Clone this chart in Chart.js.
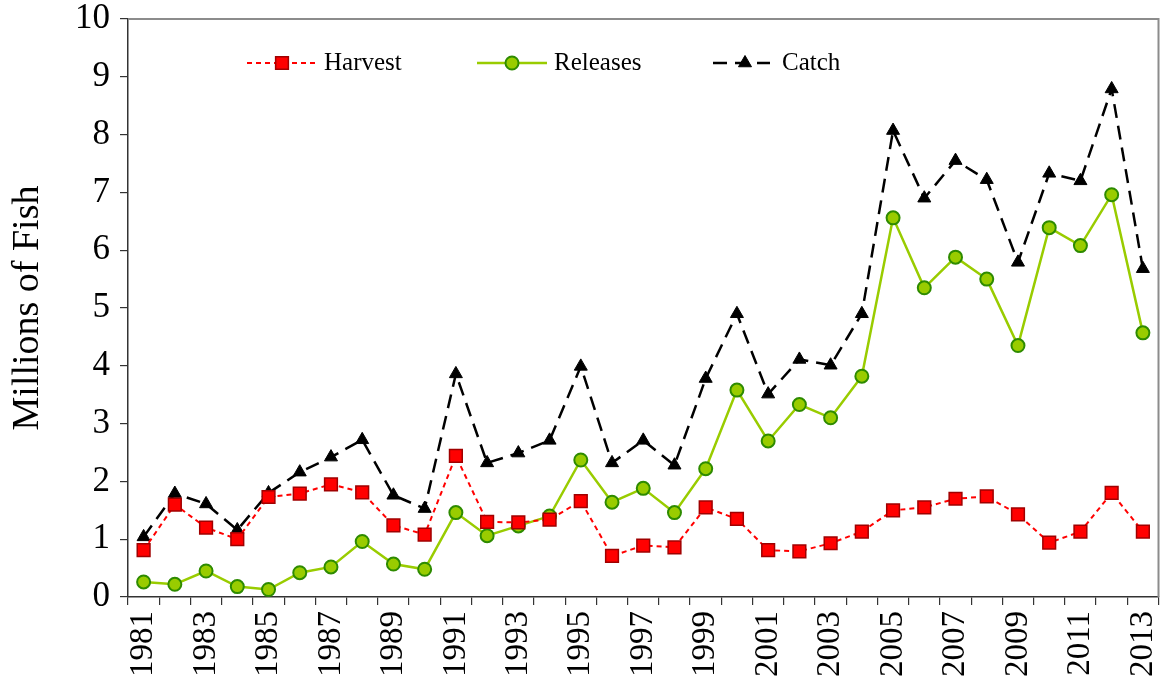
<!DOCTYPE html>
<html>
<head>
<meta charset="utf-8">
<script src="https://cdn.jsdelivr.net/npm/chart.js@4.4.1/dist/chart.umd.min.js"></script>
<style>
  html, body { margin: 0; padding: 0; background: #fff; }
  #wrap { width: 1169px; height: 687px; position: relative; }
</style>
</head>
<body>
<div id="wrap"><canvas id="c" width="1169" height="687"></canvas></div>
<script>
const years = [1981,1982,1983,1984,1985,1986,1987,1988,1989,1990,1991,1992,1993,1994,1995,1996,1997,1998,1999,2000,2001,2002,2003,2004,2005,2006,2007,2008,2009,2010,2011,2012,2013];
const harvest = [0.81,1.60,1.20,1.00,1.73,1.79,1.95,1.81,1.24,1.08,2.44,1.30,1.29,1.34,1.66,0.71,0.89,0.86,1.55,1.35,0.81,0.79,0.93,1.13,1.50,1.55,1.70,1.74,1.43,0.94,1.13,1.80,1.13];
const releases = [0.26,0.22,0.45,0.18,0.13,0.42,0.52,0.96,0.57,0.48,1.46,1.06,1.23,1.40,2.37,1.64,1.88,1.46,2.22,3.58,2.70,3.33,3.10,3.82,6.56,5.35,5.88,5.50,4.35,6.39,6.08,6.96,4.57];
const catchVals = [1.04,1.79,1.61,1.16,1.80,2.16,2.42,2.72,1.76,1.53,3.86,2.32,2.49,2.71,3.99,2.32,2.71,2.28,3.78,4.90,3.51,4.11,4.01,4.90,8.07,6.90,7.55,7.22,5.79,7.33,7.20,8.79,5.68];
const yTicks = [0,1,2,3,4,5,6,7,8,9,10];

const SERIF = "'Liberation Serif', 'Times New Roman', serif";

const legendItems = [
  { text: 'Harvest', x1: 247, x2: 317, mx: 282, tx: 324, color: '#FF0000', dash: [5,4], width: 2,
    style: 'rect', r: 9, fill: '#FF0000', stroke: '#A00000', bw: 1.5 },
  { text: 'Releases', x1: 477, x2: 547, mx: 512, tx: 554, color: '#99CC00', dash: [], width: 2.5,
    style: 'circle', r: 6.5, fill: '#99CC00', stroke: '#2E8B00', bw: 2 },
  { text: 'Catch', x1: 713, x2: 770, mx: 745, tx: 782, color: '#000000', dash: [14,8], width: 2.5,
    style: 'triangle', r: 7.5, fill: '#000000', stroke: '#000000', bw: 1 }
];

const customLegend = {
  id: 'customLegend',
  afterDraw(chart) {
    const ctx = chart.ctx;
    const y = 63;
    ctx.save();
    legendItems.forEach(it => {
      ctx.beginPath();
      ctx.strokeStyle = it.color;
      ctx.lineWidth = it.width;
      ctx.setLineDash(it.dash);
      ctx.moveTo(it.x1, y);
      ctx.lineTo(it.x2, y);
      ctx.stroke();
      ctx.setLineDash([]);
      ctx.fillStyle = it.fill;
      ctx.strokeStyle = it.stroke;
      ctx.lineWidth = it.bw;
      Chart.helpers.drawPoint(ctx, { pointStyle: it.style, radius: it.r, rotation: 0, borderWidth: it.bw }, it.mx, y);
      ctx.fillStyle = '#000';
      ctx.font = '25px ' + SERIF;
      ctx.textBaseline = 'middle';
      ctx.textAlign = 'left';
      ctx.fillText(it.text, it.tx, y);
    });
    ctx.restore();
  }
};

const frameLines = {
  id: 'frameLines',
  afterDraw(chart) {
    const a = chart.chartArea;
    const ctx = chart.ctx;
    ctx.save();
    ctx.strokeStyle = '#8c8c8c';
    ctx.lineWidth = 2;
    ctx.beginPath();
    ctx.moveTo(a.left, a.top);
    ctx.lineTo(a.right, a.top);
    ctx.lineTo(a.right, a.bottom);
    ctx.stroke();
    ctx.restore();
  }
};

new Chart(document.getElementById('c'), {
  type: 'line',
  data: {
    labels: years.map(String),
    datasets: [
      {
        label: 'Harvest', data: harvest,
        borderColor: '#FF0000', borderWidth: 2, borderDash: [5,4],
        pointStyle: 'rect', pointRadius: 9, pointHoverRadius: 9,
        pointBackgroundColor: '#FF0000', pointBorderColor: '#A00000', pointBorderWidth: 1.5,
        tension: 0, order: 1
      },
      {
        label: 'Releases', data: releases,
        borderColor: '#99CC00', borderWidth: 2.5,
        pointStyle: 'circle', pointRadius: 6.5, pointHoverRadius: 6.5,
        pointBackgroundColor: '#99CC00', pointBorderColor: '#2E8B00', pointBorderWidth: 2,
        tension: 0, order: 2
      },
      {
        label: 'Catch', data: catchVals,
        borderColor: '#000000', borderWidth: 2.5, borderDash: [14,8],
        pointStyle: 'triangle', pointRadius: 7.5, pointHoverRadius: 7.5,
        pointBackgroundColor: '#000000', pointBorderColor: '#000000', pointBorderWidth: 1,
        tension: 0, order: 3
      }
    ]
  },
  options: {
    responsive: false,
    animation: false,
    layout: { padding: { top: 19, right: 3, left: 0, bottom: 0 } },
    plugins: { legend: { display: false }, tooltip: { enabled: false } },
    scales: {
      x: {
        type: 'category',
        offset: true,
        grid: { offset: true, drawOnChartArea: false, drawTicks: true, tickLength: 8, color: '#333', lineWidth: 1.2 },
        border: { color: '#333', width: 1.5 },
        ticks: {
          autoSkip: false, maxRotation: 90, minRotation: 90, padding: 6,
          color: '#000', font: { family: SERIF, size: 33 },
          callback: function(val, idx) { return idx % 2 === 0 ? this.getLabelForValue(val) : ''; }
        },
        afterFit(scale) { scale.height = 90; scale.paddingLeft = 0; scale.paddingRight = 0; }
      },
      y: {
        min: 0, max: 10,
        afterBuildTicks(scale) { scale.ticks = yTicks.map(v => ({ value: v })); },
        grid: { drawOnChartArea: false, drawTicks: true, tickLength: 8, color: '#333', lineWidth: 1.2 },
        border: { color: '#333', width: 1.5 },
        ticks: { padding: 10, color: '#000', font: { family: SERIF, size: 35 } },
        title: { display: true, text: 'Millions of Fish', color: '#000', font: { family: SERIF, size: 38 }, padding: { top: 5, bottom: 0 } },
        afterFit(scale) { scale.width = 128; scale.paddingTop = 0; scale.paddingBottom = 0; }
      }
    }
  },
  plugins: [customLegend, frameLines]
});
</script>
</body>
</html>
